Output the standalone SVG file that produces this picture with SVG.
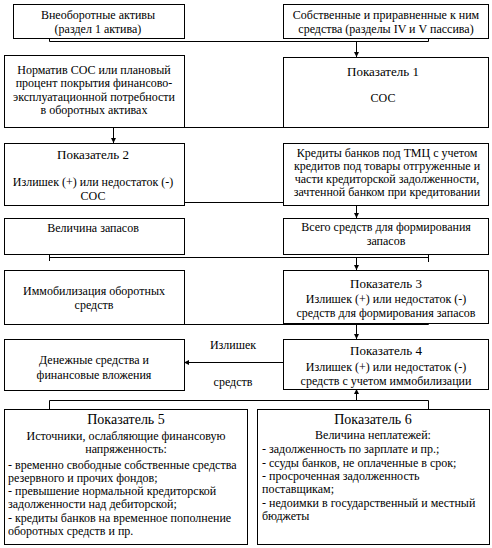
<svg xmlns="http://www.w3.org/2000/svg" width="492" height="548" viewBox="0 0 492 548">
<style>
rect.b{fill:#fff;stroke:#000;stroke-width:1}
text{font-family:'Liberation Serif','Times New Roman','DejaVu Serif',serif;font-size:12px;fill:#000}
text.c{text-anchor:middle}
text.h{font-size:13px}
text.h2{font-size:14px}
.ln{fill:none;stroke:#000;stroke-width:1}
</style>
<defs>
<marker id="ah" viewBox="0 0 10 10" refX="10" refY="5" markerWidth="5" markerHeight="5" orient="auto" markerUnits="userSpaceOnUse">
<path d="M0,0 L10,5 L0,10 z" fill="#000"/>
</marker>
</defs>
<rect width="492" height="548" fill="#fff"/>
<g font-family="'Liberation Serif', 'Times New Roman', serif">
<g id="connectors">
<path class="ln" d="M49.5,36 V41.5 H428.5 V32"/>
<path class="ln" d="M356.5,41.5 V57" marker-end="url(#ah)"/>
<path class="ln" d="M49.5,120 V127.5 H428.5 V120"/>
<path class="ln" d="M113.5,127.5 V143" marker-end="url(#ah)"/>
<path class="ln" d="M49.5,195 V202.5 H428.5 V195"/>
<path class="ln" d="M356.5,202.5 V218" marker-end="url(#ah)"/>
<path class="ln" d="M49.5,252 V261 M49.5,257.5 H428.5 M428.5,251 V262"/>
<path class="ln" d="M356.5,257.5 V270" marker-end="url(#ah)"/>
<path class="ln" d="M49.5,315 V324.5 H428.5 V318"/>
<path class="ln" d="M356.5,324.5 V339" marker-end="url(#ah)"/>
<path class="ln" d="M283,362.5 H184" marker-end="url(#ah)"/>
<path class="ln" d="M49.5,409 V400.5 H428.5 V409"/>
<path class="ln" d="M356.5,400.5 V389" marker-end="url(#ah)"/>
<text class="c" x="233" y="349">Излишек</text>
<text class="c" x="233" y="386">средств</text>
</g>
<g id="n1">
<rect class="b" x="13.5" y="4.5" width="171" height="34"/>
<text class="c" x="98" y="19">Внеоборотные активы</text>
<text class="c" x="98" y="33">(раздел 1 актива)</text>
</g>
<g id="n2">
<rect class="b" x="283.5" y="4.5" width="205" height="34"/>
<text class="c" x="386" y="19">Собственные и приравненные к ним</text>
<text class="c" x="386" y="33">средства (разделы IV и V пассива)</text>
</g>
<g id="n3">
<rect class="b" x="4.5" y="55.5" width="180" height="72"/>
<text class="c" x="94" y="74">Норматив СОС или плановый</text>
<text class="c" x="94" y="87">процент покрытия финансово-</text>
<text class="c" x="94" y="101">эксплуатационной потребности</text>
<text class="c" x="94" y="114">в оборотных активах</text>
</g>
<g id="n4">
<rect class="b" x="283.5" y="57.5" width="205" height="70"/>
<text class="c h" x="383" y="76">Показатель 1</text>
<text class="c" x="383" y="102">СОС</text>
</g>
<g id="n5">
<rect class="b" x="4.5" y="143.5" width="180" height="62"/>
<text class="c h" x="93" y="159">Показатель 2</text>
<text class="c" x="93" y="186">Излишек (+) или недостаток (-)</text>
<text class="c" x="93" y="199.5">СОС</text>
</g>
<g id="n6">
<rect class="b" x="283.5" y="143.5" width="205" height="62"/>
<text class="c" x="387" y="157">Кредиты банков под ТМЦ с учетом</text>
<text class="c" x="387" y="170">кредитов под товары отгруженные и</text>
<text class="c" x="387" y="183">части кредиторской задолженности,</text>
<text class="c" x="387" y="196">зачтенной банком при кредитовании</text>
</g>
<g id="n7">
<rect class="b" x="4.5" y="218.5" width="180" height="36"/>
<text class="c" x="93" y="232">Величина запасов</text>
</g>
<g id="n8">
<rect class="b" x="283.5" y="218.5" width="205" height="36"/>
<text class="c" x="386" y="231">Всего средств для формирования</text>
<text class="c" x="386" y="245">запасов</text>
</g>
<g id="n9">
<rect class="b" x="4.5" y="270.5" width="180" height="54"/>
<text class="c" x="94" y="295">Иммобилизация оборотных</text>
<text class="c" x="94" y="309">средств</text>
</g>
<g id="n10">
<rect class="b" x="283.5" y="270.5" width="205" height="53"/>
<text class="c h" x="386" y="288">Показатель 3</text>
<text class="c" x="386" y="303">Излишек (+) или недостаток (-)</text>
<text class="c" x="386" y="317">средств для формирования запасов</text>
</g>
<g id="n11">
<rect class="b" x="4.5" y="339.5" width="180" height="51"/>
<text class="c" x="94" y="364">Денежные средства и</text>
<text class="c" x="94" y="379">финансовые вложения</text>
</g>
<g id="n12">
<rect class="b" x="283.5" y="339.5" width="205" height="50"/>
<text class="c h" x="386" y="355">Показатель 4</text>
<text class="c" x="386" y="371">Излишек (+) или недостаток (-)</text>
<text class="c" x="386" y="385">средств с учетом иммобилизации</text>
</g>
<g id="n13">
<rect class="b" x="4.5" y="409.5" width="243" height="135"/>
<text class="c h2" x="126" y="424">Показатель 5</text>
<text class="c" x="126" y="440">Источники, ослабляющие финансовую</text>
<text class="c" x="126" y="453">напряженность:</text>
<text x="8" y="469">- временно свободные собственные средства</text>
<text x="8" y="482">резервного и прочих фондов;</text>
<text x="8" y="495">- превышение нормальной кредиторской</text>
<text x="8" y="508">задолженности над дебиторской;</text>
<text x="8" y="522">- кредиты банков на временное пополнение</text>
<text x="8" y="535">оборотных средств и пр.</text>
</g>
<g id="n14">
<rect class="b" x="257.5" y="409.5" width="232" height="135"/>
<text class="c h2" x="373" y="424">Показатель 6</text>
<text class="c" x="373" y="439">Величина неплатежей:</text>
<text x="262" y="453">- задолженность по зарплате и пр.;</text>
<text x="262" y="467">- ссуды банков, не оплаченные в срок;</text>
<text x="262" y="480">- просроченная задолженность</text>
<text x="262" y="493">поставщикам;</text>
<text x="262" y="507">- недоимки в государственный и местный</text>
<text x="262" y="520">бюджеты</text>
</g>
</g>
</svg>
